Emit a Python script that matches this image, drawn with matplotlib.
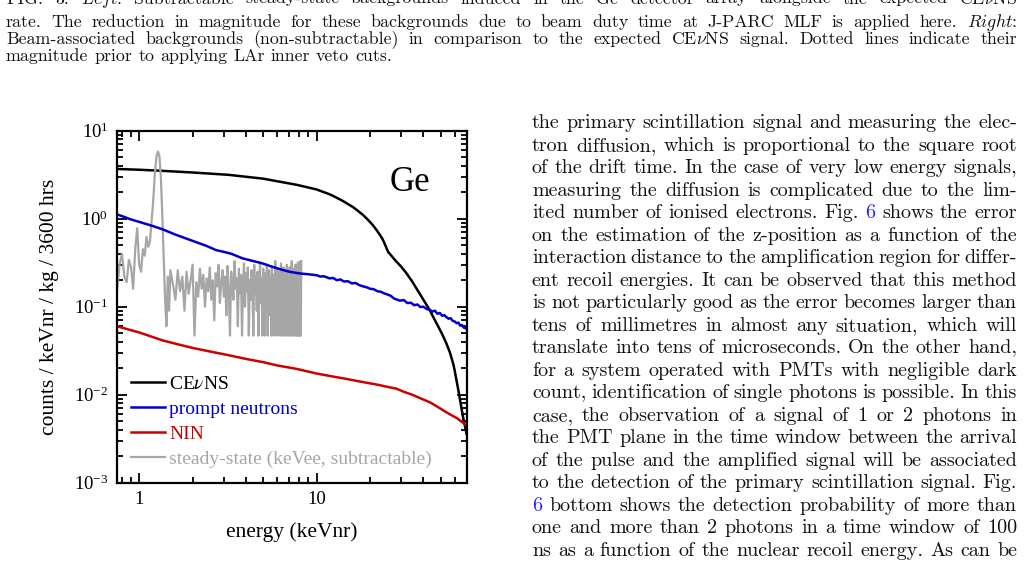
import numpy as np
import matplotlib
matplotlib.use("Agg")
import matplotlib.pyplot as plt
from matplotlib.ticker import LogLocator, NullFormatter

W, H, DPI = 1028, 572, 100

# ---------------- data ----------------
cevns_energy = [0.74, 1.0, 1.35, 2.0, 3.2, 5.0, 7.7, 10, 11.8, 12.5, 14, 15, 16, 17, 18.3,
                19.5, 20.5, 21.5, 22.7, 23.5, 24, 25.3, 28, 30, 32.1, 34.5, 37, 40, 43.5,
                46, 48, 51, 54, 56.5, 58.9, 60, 61.5, 63, 65, 67, 69.5, 70]
cevns_rate = [3.68, 3.6, 3.5, 3.35, 3.15, 2.85, 2.43, 2.15, 1.9, 1.8, 1.6, 1.47, 1.36, 1.24,
              1.1, 0.97, 0.87, 0.77, 0.66, 0.59, 0.54, 0.42, 0.33, 0.285, 0.24, 0.195, 0.155,
              0.12, 0.091, 0.073, 0.062, 0.049, 0.038, 0.03, 0.0225, 0.019, 0.0145, 0.0112,
              0.0078, 0.0055, 0.0039, 0.0036]

prompt_energy = [0.74, 0.8, 0.9, 1.0, 1.14, 1.35, 1.6, 2.0, 2.4, 2.71, 3.0, 3.3, 3.83, 4.4,
                 4.97, 5.6, 6.3, 7.0, 8.0, 9.1, 10, 10.5, 11, 11.8, 12.4, 13, 13.6, 14.3,
                 15, 15.8, 16.6, 17.4, 18.3, 19.2, 20, 21, 22, 23, 24, 25, 26.2, 27.3, 28.2,
                 29.5, 31, 32.5, 34, 35.5, 37, 38.5, 40, 41.8, 43.5, 45, 46.5, 48, 49.5, 51,
                 52.5, 54, 55.5, 57, 58.5, 60, 61.5, 63, 64.5, 66, 67.5, 69, 70]
prompt_rate = [1.13, 1.07, 0.98, 0.92, 0.85, 0.76, 0.66, 0.56, 0.49, 0.44, 0.42, 0.40, 0.354,
               0.33, 0.31, 0.285, 0.265, 0.25, 0.239, 0.233, 0.228, 0.22, 0.222, 0.21, 0.212,
               0.2, 0.204, 0.193, 0.195, 0.184, 0.186, 0.176, 0.17, 0.166, 0.16, 0.158, 0.15,
               0.148, 0.142, 0.138, 0.133, 0.124, 0.121, 0.117, 0.119, 0.11, 0.111, 0.104,
               0.106, 0.099, 0.1, 0.094, 0.092, 0.088, 0.09, 0.083, 0.085, 0.079, 0.08, 0.076,
               0.073, 0.074, 0.069, 0.068, 0.065, 0.066, 0.061, 0.062, 0.058, 0.057, 0.056]

nin_energy = [0.74, 0.77, 1.0, 1.35, 1.6, 2.0, 2.5, 3.22, 4.0, 4.97, 6.0, 7.67, 10, 13, 15,
              18.3, 22, 25, 28.2, 31, 35, 39, 43.5, 48, 54, 58, 62, 65, 68, 70]
nin_rate = [0.06, 0.059, 0.051, 0.0415, 0.038, 0.034, 0.031, 0.028, 0.0255, 0.0235, 0.0215,
            0.0197, 0.0174, 0.0158, 0.015, 0.0139, 0.013, 0.0123, 0.0117, 0.0108, 0.0099,
            0.009, 0.0082, 0.0073, 0.0063, 0.0058, 0.0054, 0.005, 0.0047, 0.0045]

# steady-state spectrum: fine bins (0.025 keV) up to 1.5 keV, then 0.05 keV bins
steady_energy = np.concatenate([np.round(np.arange(0.75, 1.5001, 0.025), 3),
                                np.round(np.arange(1.55, 8.2001, 0.05), 3)])
steady_rate = [
    0.15, 0.30, 0.40, 0.22, 0.19, 0.34, 0.28, 0.16, 0.45, 0.78,
    0.30, 0.25, 0.45, 0.38, 0.62, 0.48, 0.55, 0.95, 1.6, 3.2,
    5.0, 5.8, 5.2, 3.0, 1.1, 0.35, 0.12, 0.06, 0.22, 0.09, 0.26,
    0.18, 0.12, 0.26, 0.15, 0.22, 0.09, 0.25, 0.14, 0.2, 0.3,
    0.047, 0.19, 0.13, 0.27, 0.16, 0.23, 0.1, 0.21, 0.15, 0.28,
    0.12, 0.2, 0.07, 0.24, 0.17, 0.3, 0.11, 0.19, 0.26, 0.13,
    0.22, 0.08, 0.29, 0.15, 0.047, 0.25, 0.18, 0.12, 0.33, 0.16,
    0.21, 0.06, 0.27, 0.14, 0.23, 0.047, 0.19, 0.31, 0.1, 0.24,
    0.15, 0.28, 0.047, 0.2, 0.12, 0.26, 0.17, 0.047, 0.3, 0.14,
    0.22, 0.09, 0.25, 0.047, 0.18, 0.32, 0.11, 0.21, 0.047, 0.27,
    0.16, 0.047, 0.24, 0.13, 0.3, 0.047, 0.19, 0.26, 0.08, 0.22,
    0.047, 0.29, 0.15, 0.047, 0.23, 0.12, 0.33, 0.047, 0.2, 0.27,
    0.1, 0.047, 0.25, 0.17, 0.047, 0.31, 0.14, 0.047, 0.22, 0.28,
    0.047, 0.19, 0.26, 0.047, 0.13, 0.3, 0.047, 0.21, 0.16, 0.047,
    0.28, 0.12, 0.047, 0.24, 0.33, 0.047, 0.18, 0.047, 0.27, 0.15,
    0.047, 0.3, 0.2, 0.047, 0.25, 0.047, 0.32, 0.14, 0.047, 0.29,
    0.047, 0.33, 0.047, 0.33]

series_labels = ["CE$\\nu$NS", "prompt neutrons", "NIN", "steady-state (keVee, subtractable)"]
series_colors = ["#000000", "#0000cc", "#cc0000", "#a6a6a6"]
x_ticks = [1, 10]
x_tick_labels = ["1", "10"]

caption_lines = [
    "FIG. 3.   $\\mathit{Left}$: Subtractable steady-state backgrounds induced in the Ge detector array alongside the expected CE$\\nu$NS",
    "rate. The reduction in magnitude for these backgrounds due to beam duty time at J-PARC MLF is applied here. $\\mathit{Right}$:",
    "Beam-associated backgrounds (non-subtractable) in comparison to the expected CE$\\nu$NS signal. Dotted lines indicate their",
    "magnitude prior to applying LAr inner veto cuts.",
]
body_lines = [
    "the primary scintillation signal and measuring the elec-",
    "tron diffusion, which is proportional to the square root",
    "of the drift time. In the case of very low energy signals,",
    "measuring the diffusion is complicated due to the lim-",
    "ited number of ionised electrons. Fig. §6 shows the error",
    "on the estimation of the z-position as a function of the",
    "interaction distance to the amplification region for differ-",
    "ent recoil energies. It can be observed that this method",
    "is not particularly good as the error becomes larger than",
    "tens of millimetres in almost any situation, which will",
    "translate into tens of microseconds. On the other hand,",
    "for a system operated with PMTs with negligible dark",
    "count, identification of single photons is possible. In this",
    "case, the observation of a signal of 1 or 2 photons in",
    "the PMT plane in the time window between the arrival",
    "of the pulse and the amplified signal will be associated",
    "to the detection of the primary scintillation signal. Fig.",
    "§6 bottom shows the detection probability of more than",
    "one and more than 2 photons in a time window of 100",
    "ns as a function of the nuclear recoil energy. As can be",
]

# ---------------- figure ----------------
plt.rcParams["font.family"] = "Liberation Serif"
plt.rcParams["mathtext.fontset"] = "stix"

fig = plt.figure(figsize=(W / DPI, H / DPI), dpi=DPI)
renderer = fig.canvas.get_renderer()
LINK = "#2020ff"
INK = "#111111"
SPACE_EM = 0.333


def split_words(text):
    out = []
    for w in text.split(" "):
        if w == "":
            continue
        if w.startswith("§"):
            out.append((w[1:], LINK))
        else:
            out.append((w, INK))
    return out


def word_widths(words, size):
    ws = []
    for w, c in words:
        t = fig.text(0, 0, w, fontsize=size, family="cmr10", math_fontfamily="cm")
        ws.append(t.get_window_extent(renderer).width)
        t.remove()
    return ws


def fit_size(lines, x0, x1, s0=10.0):
    ratios = []
    for line in lines:
        words = split_words(line)
        ws = word_widths(words, s0)
        nat = sum(ws) + (len(ws) - 1) * SPACE_EM * s0 * DPI / 72
        ratios.append((x1 - x0) / nat)
    return s0 * float(np.mean(ratios))


def draw_line(text, x0, x1, base_y, size, justify):
    words = split_words(text)
    objs, widths = [], []
    for w, color in words:
        t = fig.text(0, 1 - base_y / H, w, fontsize=size, family="cmr10", color=color,
                     va="baseline", ha="left", math_fontfamily="cm")
        widths.append(t.get_window_extent(renderer).width)
        objs.append(t)
    space = size * DPI / 72 * SPACE_EM
    if justify and len(objs) > 1:
        gap = (x1 - x0 - sum(widths)) / (len(objs) - 1)
    else:
        gap = space
    x = x0
    for t, wd in zip(objs, widths):
        t.set_x(x / W)
        x += wd + gap


# caption (slightly smaller type than the body, looser word spacing)
cap_size = 0.94 * fit_size(caption_lines[1:3], 6, 1017)
cap_base = [3.5, 26.7, 44.0, 61.3]
for i, line in enumerate(caption_lines):
    draw_line(line, 6, 1017, cap_base[i], cap_size, justify=(i < 3))

# body text column
body_size = fit_size(body_lines, 532, 1017)
for i, line in enumerate(body_lines):
    draw_line(line, 532, 1017, 128.3 + 22.5 * i, body_size, justify=True)

# ---------------- chart ----------------
ax_l, ax_r, ax_t, ax_b = 116.7, 466.5, 130.7, 482.7
ax = fig.add_axes([ax_l / W, 1 - ax_b / H, (ax_r - ax_l) / W, (ax_b - ax_t) / H])

h_cevns, = ax.plot(cevns_energy, cevns_rate, color=series_colors[0], lw=1.8)
h_nin, = ax.plot(nin_energy, nin_rate, color=series_colors[2], lw=1.8)
h_ss, = ax.plot(steady_energy, steady_rate, color=series_colors[3], lw=1.6)
h_pn, = ax.plot(prompt_energy, prompt_rate, color=series_colors[1], lw=1.8)

ax.set_xscale("log")
ax.set_yscale("log")
ax.set_xlim(0.747, 70)
ax.set_ylim(1e-3, 1e1)

ax.set_xticks(x_ticks, labels=x_tick_labels)
ax.xaxis.set_minor_locator(LogLocator(base=10, subs=np.arange(2, 10)))
ax.xaxis.set_minor_formatter(NullFormatter())
ax.yaxis.set_major_locator(LogLocator(base=10, numticks=10))
ax.yaxis.set_minor_locator(LogLocator(base=10, subs=np.arange(2, 10), numticks=10))
ax.yaxis.set_minor_formatter(NullFormatter())

ax.tick_params(which="both", direction="in", top=True, right=True, width=1.3,
               labelsize=13.5, colors="#000000")
ax.tick_params(which="major", length=7, pad=6)
ax.tick_params(which="minor", length=4)
for s in ax.spines.values():
    s.set_linewidth(1.6)

ax.set_xlabel("energy (keVnr)", fontsize=15.5, labelpad=10)
ax.set_ylabel("counts / keVnr / kg / 3600 hrs", fontsize=15.5, labelpad=11)

ax.text(0.839, 0.8295, "Ge", transform=ax.transAxes, fontsize=25, ha="center",
        va="baseline")

leg = ax.legend([h_cevns, h_pn, h_nin, h_ss], series_labels, loc="lower left",
                frameon=False, fontsize=14, handlelength=1.75, handletextpad=0.2,
                labelspacing=0.38, borderpad=0.0, borderaxespad=0.75)
for txt, c in zip(leg.get_texts(), series_colors):
    txt.set_color(c)

fig.savefig("out.png", dpi=DPI)
